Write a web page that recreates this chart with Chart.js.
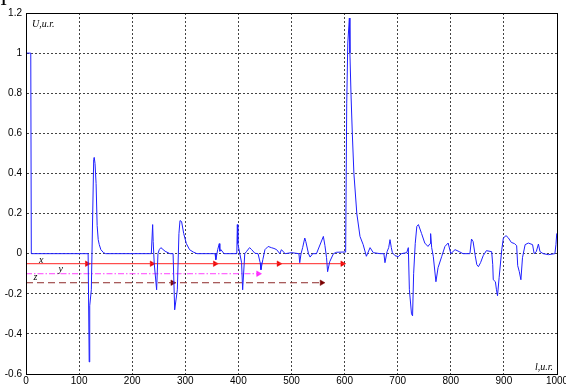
<!DOCTYPE html>
<html>
<head>
<meta charset="utf-8">
<script src="https://cdn.jsdelivr.net/npm/chart.js@4/dist/chart.umd.min.js"></script>
<style>
  html, body { margin: 0; padding: 0; background: #fff; }
  #wrap { width: 566px; height: 386px; position: relative; }
</style>
</head>
<body>
<div id="wrap"><canvas id="c"></canvas></div>
<script>
// Signal: position along the line (l, u.r.) and amplitude (U, u.r.)
const positions = [
  0, 9, 10, 117, 119, 120, 123, 127.5, 128.5, 130, 132, 134, 136, 138, 141, 146, 150,
  236, 238.5, 239.5, 241.5, 246, 248.5, 251, 254, 262, 271, 277, 280, 285, 288, 290, 293, 297, 302, 308, 315, 322,
  356, 357.5, 361, 364, 365, 367, 373, 397, 398, 399, 406, 408, 412, 415, 421, 425, 431, 437, 441, 442.5, 446, 450,
  456, 462, 467, 472, 478, 481, 488, 500, 514, 515.5, 518, 521, 525, 527, 532, 535, 540, 547, 560, 563, 566, 568,
  572, 579, 585, 597, 602,
  604, 606, 609, 610, 612, 614.5, 617.5, 623, 629, 635, 641, 648, 654, 667, 674, 676, 680, 683, 685.5, 688, 690,
  695, 701, 707, 717, 720, 722, 726, 728, 730, 733, 736, 739, 745, 751, 757, 761, 762, 764, 767, 772, 776, 783,
  789, 795, 800, 808, 816, 823, 836, 839, 842, 846, 849, 852, 856, 861, 867, 877, 879, 880, 884, 886, 888, 891,
  896, 899, 904, 908, 914, 920, 924, 926, 929, 932, 935, 940, 946, 954, 957, 961, 965, 968, 974, 984, 996, 998,
  999.5, 1000
];
const amplitudes = [
  1, 1, 0, 0, -0.54, -0.26, -0.18, 0.47, 0.48, 0.45, 0.35, 0.14, 0.07, 0.045, 0.02, 0.005, 0,
  0, 0.145, 0.06, -0.05, -0.18, 0, 0.02, 0.03, 0.012, 0, 0, -0.28, -0.18, 0.1, 0.165, 0.16, 0.1, 0.05, 0.02, 0.008, 0,
  0, -0.03, 0.02, 0.05, 0.012, 0.02, 0, 0, 0.145, 0.05, -0.045, -0.18, 0, 0.01, 0.03, 0.02, 0.002, 0, -0.045, -0.08, -0.03, 0.02,
  0.036, 0.03, 0.026, 0.02, 0, 0.02, 0, 0.005, 0, -0.045, 0, 0.03, 0.078, 0.06, 0, -0.017, 0, 0, 0.086, 0.04, -0.02, -0.09,
  -0.04, 0, 0.007, 0.008, 0.008,
  0.75, 1.05, 1.175, 1.0, 0.8, 0.6, 0.4, 0.2, 0.086, 0.045, -0.013, 0.03, 0.005, 0, 0, -0.045, 0.01, 0.03, 0.07, 0.03, 0.005,
  -0.01, -0.015, 0, 0.005, 0.03, -0.18, -0.3, -0.31, -0.1, 0.05, 0.136, 0.145, 0.1, 0.053, 0.036, 0.05, 0.1, 0.03, -0.013, -0.14, -0.07, -0.013,
  0.036, 0.053, 0, 0.02, 0.01, 0, 0, 0.073, 0.06, -0.01, -0.055, -0.065, -0.045, -0.01, 0.015, 0.01, -0.055, -0.13, -0.14, -0.18, -0.21, -0.12,
  0.02, 0.078, 0.09, 0.08, 0.056, 0.05, 0.04, -0.06, -0.09, -0.13, -0.02, 0.045, 0.053, 0.045, 0, 0.01, 0.048, 0.01, 0, -0.005, 0, 0.045,
  0.1, 0.1
];

// Propagation paths x, y, z: level, end position and arrowhead positions
const pathNames = ['x', 'y', 'z'];
const pathLevels = [-0.05, -0.1, -0.145];
const pathEnds = [600, 441, 559];
const pathArrows = [[115, 237, 356, 476, 596], [437.5], [276, 557]];

const xTicks = [0, 100, 200, 300, 400, 500, 600, 700, 800, 900, 1000];
const yTicks = [-0.6, -0.4, -0.2, 0, 0.2, 0.4, 0.6, 0.8, 1, 1.2];

const pathColors = ['#ff2424', '#ff40ff', '#8e2a2a'];
const arrowColors = ['#e80000', '#ff20ff', '#7a0000'];
const pathDash = [[], [6, 2, 1.5, 2], [7, 4]];

const datasets = [{
  label: 'U',
  data: positions.map((l, i) => ({ x: l, y: amplitudes[i] })),
  borderColor: '#1f1fff',
  borderWidth: 1,
  pointRadius: 0,
  showLine: true,
  tension: 0
}];

pathNames.forEach((name, k) => {
  datasets.push({
    label: name,
    data: [{ x: 0, y: pathLevels[k] }, { x: pathEnds[k], y: pathLevels[k] }],
    borderColor: pathColors[k],
    borderWidth: 1,
    borderDash: pathDash[k],
    pointRadius: 0,
    showLine: true
  });
  datasets.push({
    label: name + ' arrows',
    data: pathArrows[k].map(a => ({ x: a, y: pathLevels[k] })),
    showLine: false,
    pointStyle: 'triangle',
    pointRotation: 90,
    pointRadius: 3.2,
    backgroundColor: arrowColors[k],
    borderColor: arrowColors[k],
    borderWidth: 0.5
  });
});

const frameAndText = {
  id: 'frameAndText',
  afterDatasetsDraw(chart) {
    const { ctx, chartArea: a, scales } = chart;
    ctx.save();
    ctx.strokeStyle = '#000';
    ctx.lineWidth = 1;
    ctx.strokeRect(Math.round(a.left) + 0.5, Math.round(a.top) + 0.5,
      Math.round(a.right - a.left), Math.round(a.bottom - a.top));

    ctx.fillStyle = '#000';
    ctx.font = 'italic 10px "Liberation Serif", serif';
    ctx.textAlign = 'left';
    ctx.textBaseline = 'alphabetic';
    ctx.fillText('U,u.r.', a.left + 6, a.top + 14);
    ctx.fillText('l,u.r.', a.right - 22, a.bottom - 4);

    // path names written just above their lines
    const labelAt = [30, 67, 20];
    const lift = [1, 1.5, 2.5];
    pathNames.forEach((name, k) => {
      const px = scales.x.getPixelForValue(labelAt[k]);
      const py = scales.y.getPixelForValue(pathLevels[k]) - lift[k];
      ctx.fillText(name, px - 3, py);
    });

    // figure number, cut by the top edge of the page
    ctx.font = 'bold 14px "Liberation Serif", serif';
    ctx.fillText('1', 0, 5);
    ctx.restore();
  }
};

new Chart(document.getElementById('c'), {
  type: 'scatter',
  data: { datasets },
  options: {
    responsive: true,
    maintainAspectRatio: false,
    devicePixelRatio: 1,
    animation: false,
    events: [],
    layout: { padding: { left: 0, right: 9, top: 13, bottom: 0 } },
    plugins: { legend: { display: false }, tooltip: { enabled: false } },
    scales: {
      x: {
        type: 'linear',
        min: 0, max: 1000,
        afterBuildTicks(s) { s.ticks = xTicks.map(v => ({ value: v })); },
        ticks: {
          color: '#000',
          font: { family: '"Liberation Sans", Arial, sans-serif', size: 10 },
          padding: 1, maxRotation: 0, autoSkip: false,
          callback: v => String(v)
        },
        grid: { color: '#444', lineWidth: 1, drawTicks: false },
        border: { display: true, color: '#000', dash: [2, 2] },
        afterFit(s) { s.height = 12; s.paddingLeft = 0; s.paddingRight = 0; }
      },
      y: {
        type: 'linear',
        min: -0.6, max: 1.2,
        afterBuildTicks(s) { s.ticks = yTicks.map(v => ({ value: v })); },
        ticks: {
          color: '#000',
          font: { family: '"Liberation Sans", Arial, sans-serif', size: 10 },
          padding: 4,
          callback: v => String(Number(v.toFixed(1)))
        },
        grid: { color: '#444', lineWidth: 1, drawTicks: false },
        border: { display: true, color: '#000', dash: [2, 2] },
        afterFit(s) { s.width = 26; s.paddingTop = 0; s.paddingBottom = 0; }
      }
    }
  },
  plugins: [frameAndText]
});
</script>
</body>
</html>
